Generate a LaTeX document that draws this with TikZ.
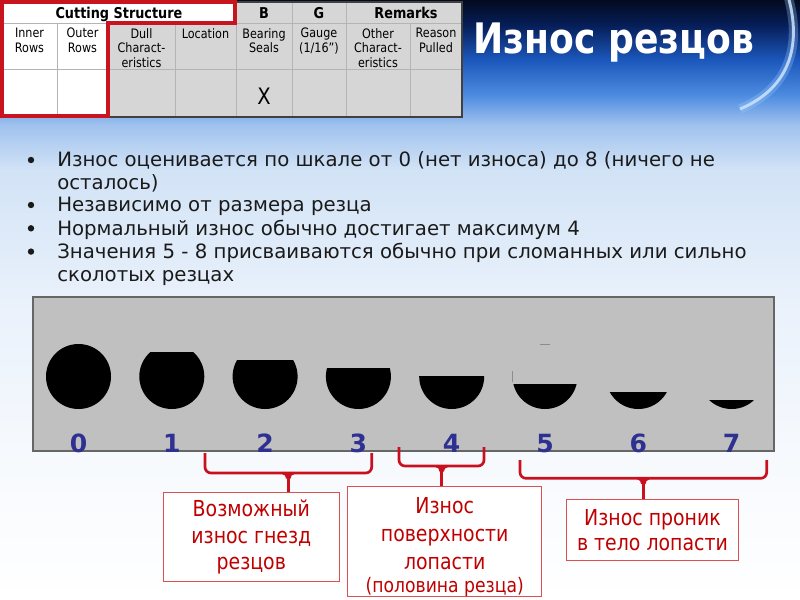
\documentclass[tikz,border=0pt]{standalone}
\usepackage{fontspec}
\setmainfont{DejaVu Sans}
\newfontfamily\tah[FakeStretch=0.86]{DejaVu Sans}
\definecolor{bg0}{HTML}{020A1E}
\definecolor{bg25}{HTML}{061E58}
\definecolor{bg60}{HTML}{1C58BC}
\definecolor{bg95}{HTML}{4C8BE0}
\definecolor{bg125}{HTML}{A0C2EE}
\definecolor{bg170}{HTML}{D2E3F6}
\definecolor{bg300}{HTML}{E9F1FB}
\definecolor{bg450}{HTML}{F6F9FD}
\definecolor{bgw}{HTML}{FFFFFF}
\definecolor{arcblue}{HTML}{9CCBFF}
\definecolor{cellgray}{HTML}{D6D6D6}
\definecolor{gridc}{HTML}{B4B4B4}
\definecolor{tabred}{RGB}{200,20,30}
\definecolor{digblue}{RGB}{46,49,146}
\definecolor{brkred}{RGB}{200,16,30}
\definecolor{boxred}{RGB}{220,80,80}
\definecolor{boxtxt}{RGB}{192,0,0}
\definecolor{txtc}{HTML}{1A1A1A}
\definecolor{panelg}{HTML}{C0C0C0}
\pgfdeclareverticalshading{slidebg}{100bp}{color(0bp)=(bgw); color(25bp)=(bgw); color(37.5bp)=(bg450); color(50bp)=(bg300); color(60.8bp)=(bg170); color(64.6bp)=(bg125); color(67.1bp)=(bg95); color(70bp)=(bg60); color(72.9bp)=(bg25); color(75bp)=(bg0); color(100bp)=(bg0)}
\tikzset{
  gcell/.style={fill=cellgray, draw=gridc, line width=0.6pt},
  wcell/.style={fill=white, draw=gridc, line width=0.6pt},
  thead/.style={font=\tah\bfseries\fontsize{11.2}{12}\selectfont, anchor=base, inner sep=0},
  tcell/.style={font=\tah\fontsize{9.75}{11}\selectfont, align=center, anchor=north, inner sep=0},
  btxt/.style={font=\fontsize{14.8}{17.5}\selectfont, anchor=base west, inner sep=0, text=txtc},
  bdot/.style={fill=txtc},
  digit/.style={font=\bfseries\fontsize{18.8}{20}\selectfont, text=digblue, anchor=base, inner sep=0},
  brk/.style={draw=brkred, line width=2pt, rounded corners=4.5pt},
  stem/.style={draw=brkred, line width=2pt},
  rbox/.style={draw=boxred, line width=0.8pt, fill=white, inner sep=0, align=center, text=boxtxt, font=\tah\fontsize{16.5}{19.9}\selectfont},
}
\begin{document}
\begin{tikzpicture}[x=0.75pt,y=-0.75pt]
\useasboundingbox (0,0) rectangle (800,600);
% background
\fill[shading=slidebg] (0,0) rectangle (800,600);
\draw[line width=7pt, color=arcblue, opacity=0.3] (788,-4) .. controls (802,45) and (790,88) .. (740,109);
\draw[line width=2.2pt, color=arcblue!50!white, opacity=0.85] (788,-4) .. controls (802,45) and (790,88) .. (740,109);
% table
\fill[white] (2,2) rectangle (236,23);
\foreach \a/\b in {236/292,292/346,346/462} {\draw[gcell] (\a,2) rectangle (\b,23);}
\draw[wcell] (2,2) rectangle (236,23);
\foreach \a/\b in {2/57,57/108} {\draw[wcell] (\a,23) rectangle (\b,69); \draw[wcell] (\a,69) rectangle (\b,117);}
\foreach \a/\b in {108/175,175/236,236/292,292/346,346/410,410/462} {\draw[gcell] (\a,23) rectangle (\b,69); \draw[gcell] (\a,69) rectangle (\b,117);}
\draw[draw=black!75, line width=0.9pt] (2,2) rectangle (462,117);
\node[thead] (hcs) at (119,18.4) {Cutting Structure};
\node[thead] (hb) at (264,18.4) {B};
\node[thead] (hg) at (319,18.4) {G};
\node[thead] (hr) at (406,18.4) {Remarks};
\node[tcell] (c1) at (29.5,28) {Inner\\Rows};
\node[tcell] (c2) at (82.5,28) {Outer\\Rows};
\node[tcell] (c3) at (141.5,28) {Dull\\Charact-\\eristics};
\node[tcell] (c4) at (205.5,28) {Location};
\node[tcell] (c5) at (264,28) {Bearing\\Seals};
\node[tcell] (c6) at (319,28) {Gauge\\(1/16”)};
\node[tcell] (c7) at (378,28) {Other\\Charact-\\eristics};
\node[tcell] (c8) at (436,28) {Reason\\Pulled};
\node[font=\tah\fontsize{17}{20}\selectfont, anchor=base, inner sep=0] (xmark) at (264,104) {X};
\draw[tabred, line width=2.3pt, line join=miter] (2,2) -- (235,2) -- (235,23) -- (108,23) -- (108,116) -- (2,116) -- cycle;
% title
\node[font=\tah\bfseries\fontsize{31.5}{36}\selectfont, text=white, anchor=base, inner sep=0] (title) at (614,53.3) {Износ резцов};
% bullets
\foreach \y in {160,205,228.3,251.6} {\fill[bdot] (31,\y) circle[radius=3.2];}
\node[btxt] (l1a) at (57,166.7) {Износ оценивается по шкале от 0 (нет износа) до 8 (ничего не};
\node[btxt] (l1b) at (57,189) {осталось)};
\node[btxt] (l2) at (57,211.7) {Независимо от размера резца};
\node[btxt] (l3) at (57,235) {Нормальный износ обычно достигает максимум 4};
\node[btxt] (l4a) at (57,258.3) {Значения 5 - 8 присваиваются обычно при сломанных или сильно};
\node[btxt] (l4b) at (57,281.7) {сколотых резцах};
% panel
\draw[fill=panelg, draw=black!60, line width=0.8pt] (33,297) rectangle (774,451);
\foreach \i in {0,...,7} {
  \pgfmathsetmacro\cx{78.5+93.3*\i}
  \pgfmathsetmacro\cut{\i==0 ? 340 : 344+8.125*\i}
  \begin{scope}
    \clip (\cx-40,\cut) rectangle (\cx+40,420);
    \fill[black] (\cx,376.5) circle[radius=32.5];
  \end{scope}
  \node[digit] (d\i) at (\cx,452.3) {\i};
}
\draw[black!45, line width=0.7pt] (540,344) -- (550,344);
\draw[black!45, line width=0.7pt] (512.7,371) -- (512.7,382);
% boxes
\node[rbox, minimum width=176*0.75pt, minimum height=89.4*0.75pt] (box1) at (251.3,537) {Возможный\\износ гнезд\\резцов};
\node[rbox, minimum width=194*0.75pt, minimum height=108.7*0.75pt, font=\tah\fontsize{16.5}{21}\selectfont] (box2) at (444.7,541.7) {\rule{0pt}{20pt}Износ\\поверхности\\лопасти\\[-4pt]{\fontsize{15}{16}\selectfont(половина резца)}};
\node[rbox, minimum width=171.6*0.75pt, minimum height=61.4*0.75pt, font=\tah\fontsize{16.5}{18.8}\selectfont] (box3) at (652.5,530) {Износ проник\\в тело лопасти};
% brackets
\coordinate (b1l) at (205,453); \coordinate (b1r) at (371.7,453); \coordinate (s1) at (288.3,473);
\coordinate (b2l) at (399,447); \coordinate (b2r) at (484,447); \coordinate (s2) at (441.7,466);
\coordinate (b3l) at (520,460); \coordinate (b3r) at (766.7,460); \coordinate (s3) at (643.3,478.3);
\draw[brk] (b1l) |- (s1) -| (b1r);
\draw[brk] (b2l) |- (s2) -| (b2r);
\draw[brk] (b3l) |- (s3) -| (b3r);
\foreach \s/\b in {s1/box1,s2/box2,s3/box3} {
  \draw[stem] (\s) -- (\s |- \b.north);
  \draw[stem] ([xshift=-4pt]\s) to[out=0,in=90] ([xshift=-0.7pt,yshift=-4pt]\s);
  \draw[stem] ([xshift=4pt]\s) to[out=180,in=90] ([xshift=0.7pt,yshift=-4pt]\s);
}
\end{tikzpicture}
\end{document}
